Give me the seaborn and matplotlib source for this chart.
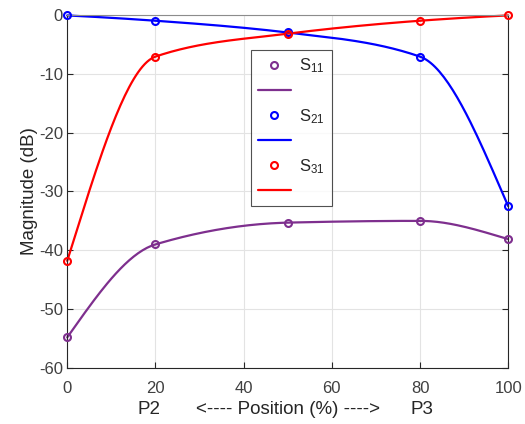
import numpy as np
import pandas as pd
import matplotlib
matplotlib.use("Agg")
import matplotlib.pyplot as plt
from matplotlib.lines import Line2D
import seaborn as sns

# data
position = [0, 20, 50, 80, 100]
s11 = [-54.8, -39.0, -35.3, -35.0, -38.1]
s21 = [-0.1, -1.0, -3.0, -7.1, -32.5]
s31 = [-41.8, -7.1, -3.2, -1.0, -0.1]

series = {"S11": s11, "S21": s21, "S31": s31}
labels = {"S11": "S$_{11}$", "S21": "S$_{21}$", "S31": "S$_{31}$"}
colors = {"S11": "#7E2F8E", "S21": "#0000FF", "S31": "#FF0000"}


def pchip_curve(x, y, n=200):
    # shape-preserving cubic used only to draw the connecting line
    x = np.asarray(x, float)
    y = np.asarray(y, float)
    h = np.diff(x)
    d = np.diff(y) / h
    m = np.zeros_like(y)
    for k in range(1, len(x) - 1):
        if d[k - 1] * d[k] > 0:
            w1 = 2 * h[k] + h[k - 1]
            w2 = h[k] + 2 * h[k - 1]
            m[k] = (w1 + w2) / (w1 / d[k - 1] + w2 / d[k])

    def end(h0, h1, d0, d1):
        v = ((2 * h0 + h1) * d0 - h0 * d1) / (h0 + h1)
        if np.sign(v) != np.sign(d0):
            v = 0.0
        elif np.sign(d0) != np.sign(d1) and abs(v) > abs(3 * d0):
            v = 3 * d0
        return v

    m[0] = end(h[0], h[1], d[0], d[1])
    m[-1] = end(h[-1], h[-2], d[-1], d[-2])
    xs = np.linspace(x[0], x[-1], n)
    k = np.clip(np.searchsorted(x, xs) - 1, 0, len(x) - 2)
    t = (xs - x[k]) / h[k]
    h00 = 2 * t**3 - 3 * t**2 + 1
    h10 = t**3 - 2 * t**2 + t
    h01 = -2 * t**3 + 3 * t**2
    h11 = t**3 - t**2
    ys = h00 * y[k] + h10 * h[k] * m[k] + h01 * y[k + 1] + h11 * h[k] * m[k + 1]
    return xs, ys


sns.set_style("whitegrid")
plt.rcParams["font.family"] = ["Liberation Sans", "DejaVu Sans"]
plt.rcParams["axes.unicode_minus"] = False
plt.rcParams["mathtext.fontset"] = "custom"
plt.rcParams["mathtext.rm"] = "Liberation Sans"
plt.rcParams["mathtext.it"] = "Liberation Sans"

fig = plt.figure(figsize=(5.25, 4.24), dpi=100)
ax = fig.add_axes([0.128, 0.132, 0.840, 0.833])

handles = []
for name, vals in series.items():
    xs, ys = pchip_curve(position, vals)
    curve = pd.DataFrame({"x": xs, "y": ys})
    sns.lineplot(data=curve, x="x", y="y", ax=ax, color=colors[name],
                 linewidth=1.6, sort=False, clip_on=False)
    ax.plot(position, vals, "o", mfc="none", mec=colors[name], mew=1.5,
            ms=5, clip_on=False, zorder=5)
    handles.append(Line2D([], [], ls="none", marker="o", mfc="none",
                          mec=colors[name], mew=1.5, ms=5, label=labels[name]))
    handles.append(Line2D([], [], color=colors[name], lw=1.6, label=" "))

ax.set_xlim(0, 100)
ax.set_ylim(-60, 0)
ax.set_xticks([0, 20, 40, 60, 80, 100])
ax.set_yticks([-60, -50, -40, -30, -20, -10, 0])
ax.grid(True, color="#e3e3e3", linewidth=0.8)
for sp in ax.spines.values():
    sp.set_color("#262626")
    sp.set_linewidth(0.8)
ax.spines["top"].set_color("#8c8c8c")
ax.tick_params(direction="in", length=4, labelsize=12, colors="#262626",
               labelcolor="#404040", top=False, right=True, bottom=True,
               left=True)
ax.tick_params(axis="x", pad=9)
ax.tick_params(axis="y", pad=3)

ax.set_xlabel("<---- Position (%) ---->", fontsize=13.5, color="#262626",
              labelpad=4)
ax.set_ylabel("Magnitude (dB)", fontsize=13.5, color="#262626", labelpad=1)
fig.text(149 / 525, 1 - 410 / 424, "P2", fontsize=13.5, color="#262626",
         ha="center", va="center")
fig.text(422 / 525, 1 - 410 / 424, "P3", fontsize=13.5, color="#262626",
         ha="center", va="center")

leg = ax.legend(handles=handles, loc="upper left",
                bbox_to_anchor=(0.417, 0.901), borderaxespad=0,
                frameon=True, fancybox=False,
                fontsize=12, handlelength=2.0, labelspacing=0.5,
                borderpad=0.4, handletextpad=0.5)
leg.get_frame().set_edgecolor("#262626")
leg.get_frame().set_linewidth(0.8)

fig.savefig("out.png", dpi=100)
